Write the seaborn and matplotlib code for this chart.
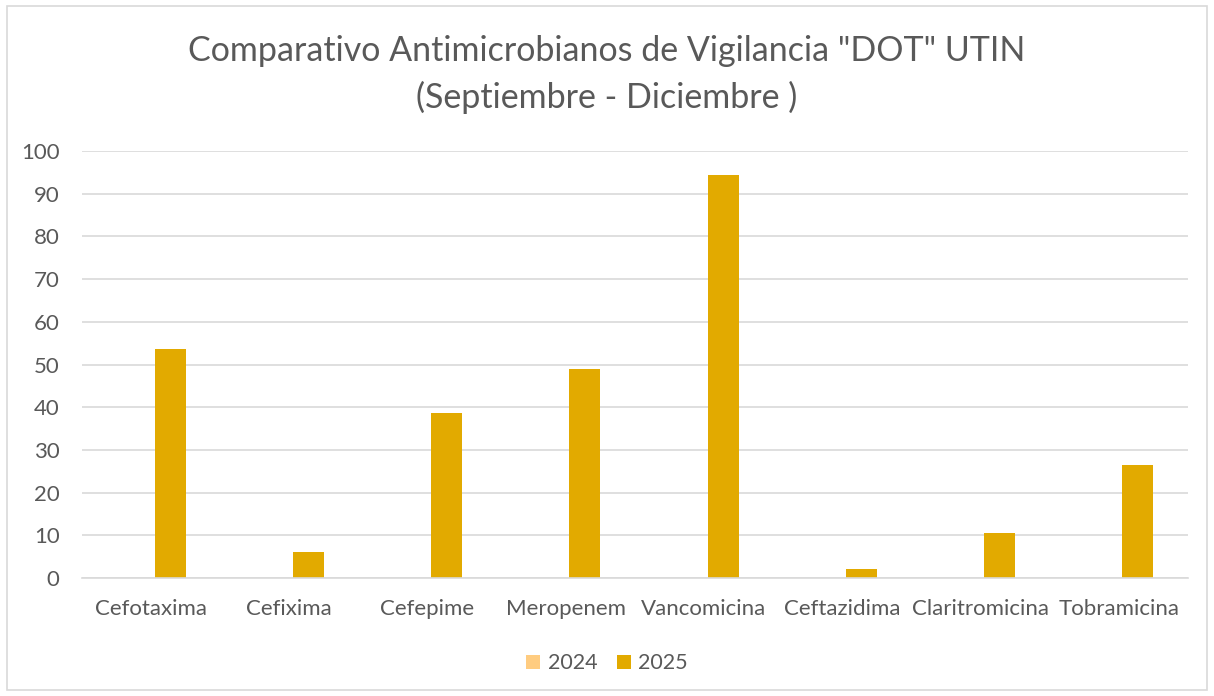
import matplotlib
matplotlib.use("Agg")
import matplotlib.pyplot as plt
import seaborn as sns
import pandas as pd
from matplotlib.patches import Patch, Rectangle

categories = ["Cefotaxima", "Cefixima", "Cefepime", "Meropenem", "Vancomicina",
              "Ceftazidima", "Claritromicina", "Tobramicina"]
series_names = ["2024", "2025"]
values_2024 = [0, 0, 0, 0, 0, 0, 0, 0]
values_2025 = [53.6, 6.1, 38.6, 49.0, 94.4, 2.2, 10.5, 26.5]
y_ticks = [0, 10, 20, 30, 40, 50, 60, 70, 80, 90, 100]
colors = {"2024": "#FFCC80", "2025": "#E2AA00"}

df = pd.DataFrame({
    "cat": categories * 2,
    "year": [series_names[0]] * len(categories) + [series_names[1]] * len(categories),
    "val": values_2024 + values_2025,
})

sns.set_theme(style="white")
plt.rcParams["font.family"] = ["Lato", "DejaVu Sans"]
txt = "#595959"

fig = plt.figure(figsize=(12.14, 6.96), dpi=100)
fig.patches.append(Rectangle((0.006, 0.008), 0.988, 0.984, transform=fig.transFigure,
                             fill=False, edgecolor="#D9D9D9", linewidth=1.2))
ax = fig.add_axes([0.0675, 0.1695, 0.911, 0.6135])
sns.barplot(data=df, x="cat", y="val", hue="year", palette=colors, width=0.55, gap=0.185,
            ax=ax, legend=False, saturation=1, edgecolor="none")
ax.set_ylim(0, 100)
ax.set_xlim(-0.5, len(categories) - 0.5)
ax.set_yticks(y_ticks)
ax.set_yticklabels([str(t) for t in y_ticks], color=txt, fontsize=16)
ax.set_xticklabels(categories, color=txt, fontsize=16)
ax.yaxis.grid(True, color="#D9D9D9", linewidth=1.2)
ax.set_axisbelow(True)
for s in ["top", "right", "left"]:
    ax.spines[s].set_visible(False)
ax.spines["bottom"].set_color("#D9D9D9")
ax.spines["bottom"].set_linewidth(1.2)
ax.tick_params(axis="both", length=0)
ax.tick_params(axis="y", pad=16)
ax.tick_params(axis="x", pad=15)
ax.set_xlabel("")
ax.set_ylabel("")

fig.text(0.5, 0.893, 'Comparativo Antimicrobianos de Vigilancia "DOT" UTIN\n(Septiembre - Diciembre )',
         ha="center", va="center", fontsize=24.5, color=txt, linespacing=1.5)

handles = [Patch(facecolor=colors[n], edgecolor="none", label=n) for n in series_names]
fig.legend(handles=handles, loc="center", bbox_to_anchor=(0.5, 0.047), ncol=2,
           frameon=False, fontsize=15.5, handlelength=0.65, handleheight=0.65,
           handletextpad=0.35, columnspacing=0.9, labelcolor=txt)

fig.savefig("out.png", dpi=100)
